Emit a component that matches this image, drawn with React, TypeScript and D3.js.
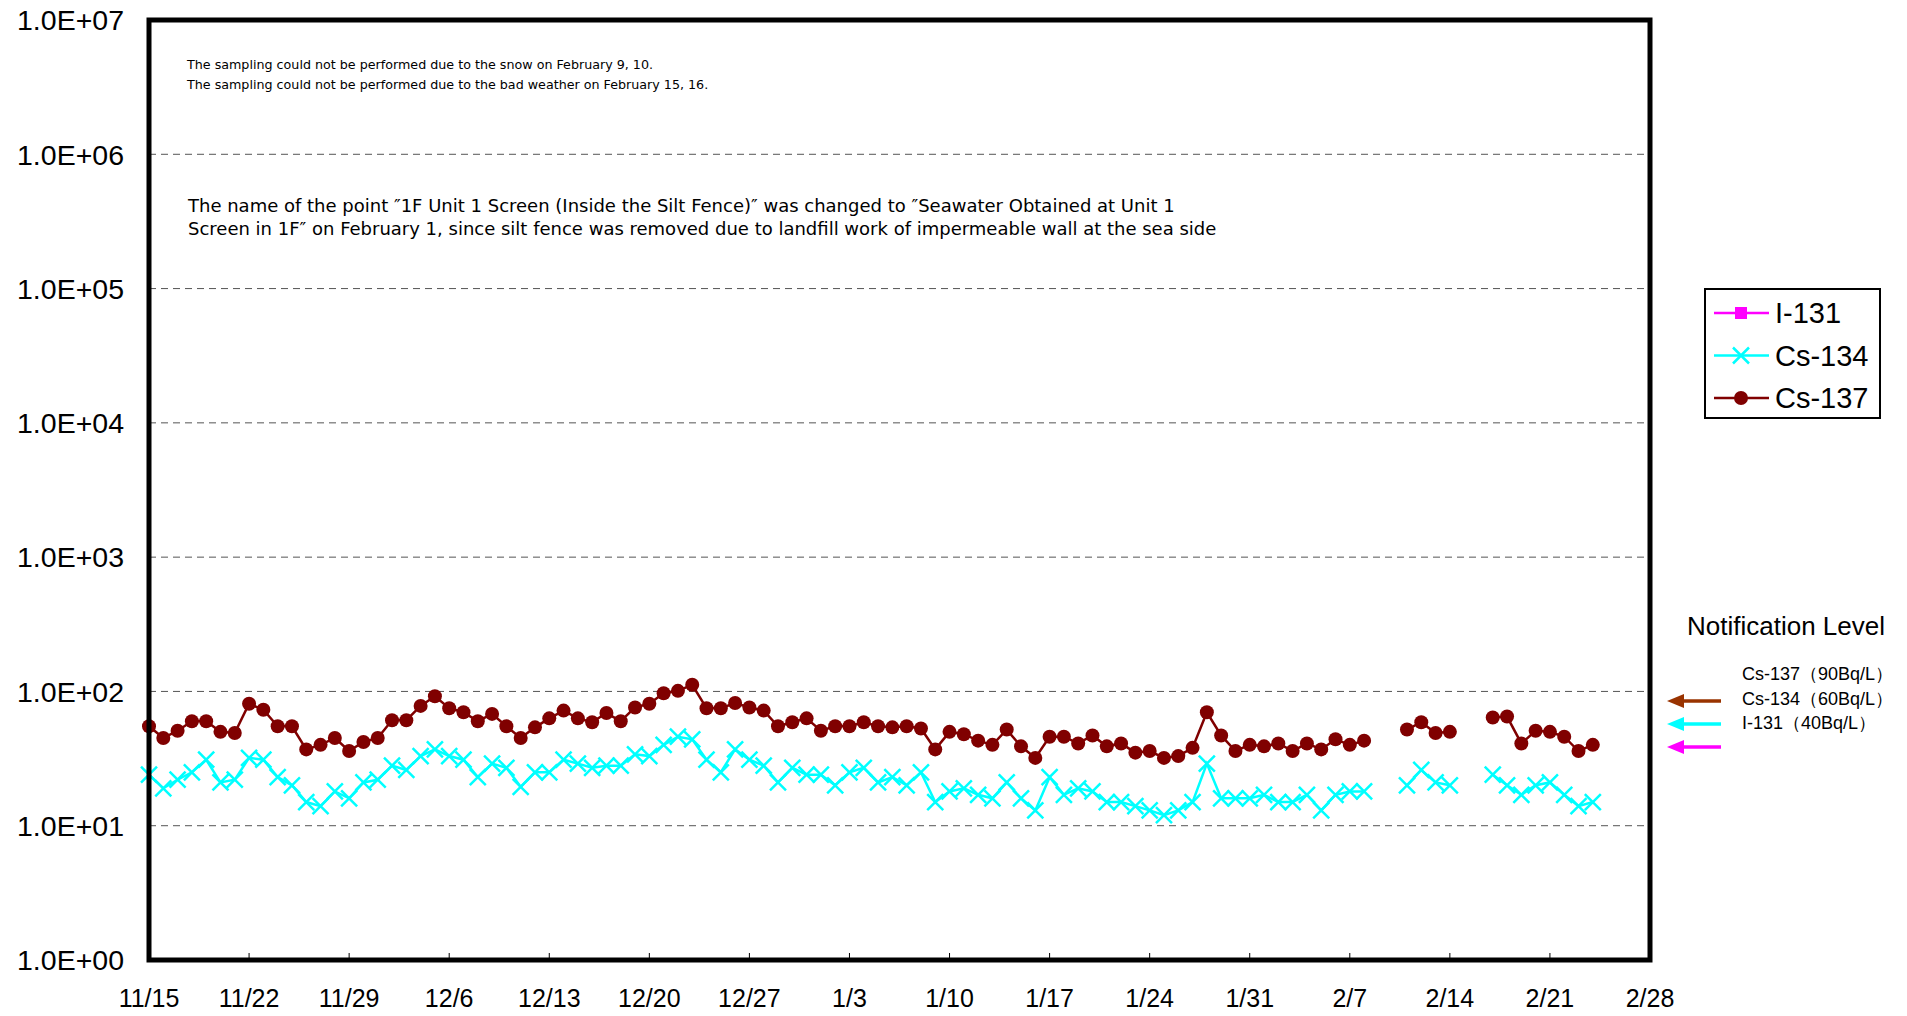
import React from 'react';
import * as d3 from 'd3';

// ---- data ----
const START_DATE = new Date(2013, 10, 15);
const END_DATE = new Date(2014, 1, 28);

// daily values starting 11/15 (index = day offset); null = no sampling
const CS137: (number | null)[] = [
  55, 45, 51, 60, 60, 50, 49, 81, 73, 55,
  55, 37, 40, 45, 36, 42, 45, 61, 61, 78,
  92, 75, 70, 60, 68, 55, 45, 54, 63, 72,
  63, 59, 69, 60, 76, 81, 97, 101, 112, 75,
  75, 82, 76, 72, 55, 59, 63, 51, 55, 55,
  59, 55, 54, 55, 53, 37, 50, 48, 43, 40,
  52, 39, 32, 46, 46, 41, 47, 39, 41, 35,
  36, 32, 33, 38, 70, 47, 36, 40, 39, 41,
  36, 41, 37, 44, 40, 43, null, null, 52, 59,
  49, 50, null, null, 64, 65, 41, 51, 50, 46,
  36, 40,
];
const CS134: (number | null)[] = [
  24, 19, 22, 25, 31, 21, 22, 32, 31, 23,
  20, 15, 14, 18, 16, 21, 22, 28, 26, 33,
  37, 33, 31, 23, 29, 27, 19.5, 25, 25, 31,
  29, 27, 28, 28, 34, 33, 40, 46, 44, 31,
  25, 37, 31, 28, 21, 27, 24, 24, 20, 25,
  27, 21, 23, 20, 25, 15, 18, 19, 17, 16,
  21, 16, 13, 23, 17, 19, 18, 15, 15, 14,
  13, 12, 13, 15, 29, 16, 16, 16, 17, 15,
  15, 17, 13, 17, 18, 18, null, null, 20, 26,
  21, 20, null, null, 24, 20, 17, 20, 21, 17,
  14, 15,
];
const I131: (number | null)[] = []; // all below detection limit

const X_TICK_LABELS = ['11/15', '11/22', '11/29', '12/6', '12/13', '12/20', '12/27', '1/3', '1/10', '1/17', '1/24', '1/31', '2/7', '2/14', '2/21', '2/28'];
const Y_TICKS = [1, 10, 100, 1e3, 1e4, 1e5, 1e6, 1e7];
const Y_TICK_LABELS = ['1.0E+00', '1.0E+01', '1.0E+02', '1.0E+03', '1.0E+04', '1.0E+05', '1.0E+06', '1.0E+07'];

const NOTES_TOP = [
  'The sampling could not be performed due to the snow on February 9, 10.',
  'The sampling could not be performed due to the bad weather on February 15, 16.',
];
const NOTE_MAIN = [
  'The name of the point ″1F Unit 1 Screen (Inside the Silt Fence)″ was changed to ″Seawater Obtained at Unit 1',
  'Screen in 1F″ on February 1, since silt fence was removed due to landfill work of impermeable wall at the sea side',
];

const LEGEND = ['I-131', 'Cs-134', 'Cs-137'];
const NOTIFY_LABELS = ['Cs-137（90Bq/L）', 'Cs-134（60Bq/L）', 'I-131（40Bq/L）'];
const NOTIFY_ARROW_COLORS = ['#993300', '#00FFFF', '#FF00FF'];

const COLORS: Record<string, string> = { 'I-131': '#FF00FF', 'Cs-134': '#00FFFF', 'Cs-137': '#800000' };
const FONT = '"Liberation Sans", Arial, sans-serif';
const NOTE_FONT = '"DejaVu Sans", "Liberation Sans", sans-serif';

function Marker({ kind, x, y }: { kind: string; x: number; y: number }) {
  if (kind === 'Cs-137') return <circle cx={x} cy={y} r={7} fill={COLORS[kind]} />;
  if (kind === 'Cs-134') {
    const s = 8;
    return (
      <path d={`M${x - s},${y - s}L${x + s},${y + s}M${x - s},${y + s}L${x + s},${y - s}`} stroke={COLORS[kind]} strokeWidth={2.5} fill="none" />
    );
  }
  return <rect x={x - 6} y={y - 6} width={12} height={12} fill={COLORS[kind]} />;
}

export default function App() {
  const left = 149, right = 1650, top = 20, bottom = 960;
  const x = d3.scaleTime().domain([START_DATE, END_DATE]).range([left, right]);
  const y = d3.scaleLog().domain([1, 1e7]).range([bottom, top]);

  const toPts = (vals: (number | null)[]) =>
    vals.map((v, i) => ({ d: d3.timeDay.offset(START_DATE, i), v }));

  const line = d3
    .line<{ d: Date; v: number | null }>()
    .defined((p) => p.v != null)
    .x((p) => x(p.d))
    .y((p) => y(p.v as number));

  const series = [
    { name: 'Cs-134', pts: toPts(CS134) },
    { name: 'Cs-137', pts: toPts(CS137) },
    { name: 'I-131', pts: toPts(I131) },
  ];

  return (
    <svg width={1907} height={1016} style={{ position: 'absolute', left: 0, top: 0 }} fontFamily={FONT}>
      <rect x={0} y={0} width={1907} height={1016} fill="#fff" />
      {/* grid */}
      {Y_TICKS.slice(1, -1).map((t) => (
        <line key={t} x1={left} x2={right} y1={y(t)} y2={y(t)} stroke="#555" strokeWidth={1} strokeDasharray="7,5" />
      ))}
      {/* y labels */}
      {Y_TICKS.map((t, i) => (
        <text key={t} x={124} y={y(t)} dy="0.36em" textAnchor="end" fontSize={28.5} fill="#000">
          {Y_TICK_LABELS[i]}
        </text>
      ))}
      {/* x ticks & labels */}
      {X_TICK_LABELS.map((lab, i) => {
        const xx = x(d3.timeDay.offset(START_DATE, i * 7));
        return (
          <g key={lab}>
            <line x1={xx} x2={xx} y1={bottom} y2={bottom - 7} stroke="#000" strokeWidth={1} />
            <text x={xx} y={1007} textAnchor="middle" fontSize={25} fill="#000">
              {lab}
            </text>
          </g>
        );
      })}
      {/* series */}
      {series.map((s) => (
        <g key={s.name}>
          <path d={line(s.pts) || ''} fill="none" stroke={COLORS[s.name]} strokeWidth={2.5} />
          {s.pts.filter((p) => p.v != null).map((p, i) => (
            <Marker key={i} kind={s.name} x={x(p.d)} y={y(p.v as number)} />
          ))}
        </g>
      ))}
      {/* frame */}
      <rect x={left} y={top} width={right - left} height={bottom - top} fill="none" stroke="#000" strokeWidth={5} />
      {/* notes */}
      {NOTES_TOP.map((t, i) => (
        <text key={i} x={187} y={69 + i * 19.5} fontSize={12.7} fontFamily={NOTE_FONT} fill="#000">
          {t}
        </text>
      ))}
      {NOTE_MAIN.map((t, i) => (
        <text key={i} x={188} y={212 + i * 23} fontSize={18} fontFamily={NOTE_FONT} fill="#000">
          {t}
        </text>
      ))}
      {/* legend */}
      <rect x={1705} y={289} width={175} height={129} fill="#fff" stroke="#000" strokeWidth={2} />
      {LEGEND.map((name, i) => {
        const ly = 313 + i * 42.5;
        return (
          <g key={name}>
            <line x1={1714} x2={1769} y1={ly} y2={ly} stroke={COLORS[name]} strokeWidth={2.5} />
            <Marker kind={name} x={1741} y={ly} />
            <text x={1775} y={ly} dy="0.36em" fontSize={29} fill="#000">
              {name}
            </text>
          </g>
        );
      })}
      {/* notification level */}
      <text x={1687} y={626} dy="0.36em" fontSize={26} fill="#000">Notification Level</text>
      {NOTIFY_LABELS.map((t, i) => (
        <text key={t} x={1742} y={674 + i * 24.5} dy="0.36em" fontSize={18} fill="#000">
          {t}
        </text>
      ))}
      {NOTIFY_ARROW_COLORS.map((c, i) => {
        const ay = 701 + i * 23;
        return (
          <g key={c}>
            <line x1={1680} x2={1721} y1={ay} y2={ay} stroke={c} strokeWidth={3.5} />
            <polygon points={`1667,${ay} 1684,${ay - 7} 1684,${ay + 7}`} fill={c} />
          </g>
        );
      })}
    </svg>
  );
}
